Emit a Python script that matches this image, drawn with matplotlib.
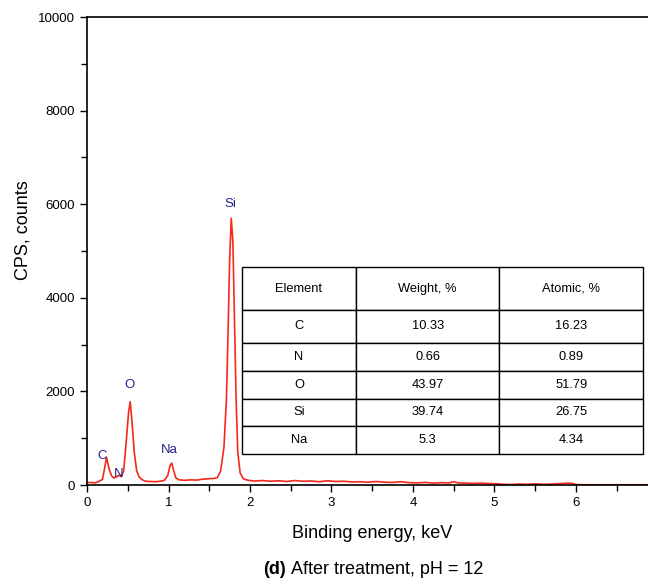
import matplotlib
matplotlib.use('Agg')
import matplotlib.pyplot as plt
from matplotlib.ticker import MultipleLocator

plt.rcParams['font.family'] = ['Liberation Sans', 'DejaVu Sans']

# ── EDS spectrum (energy in keV, counts per second) ──────────────────────────
energy = [0.00, 0.05, 0.10, 0.15, 0.19, 0.21, 0.24, 0.27, 0.30, 0.33, 0.36,
          0.39, 0.42, 0.45, 0.48, 0.51, 0.53, 0.55, 0.58, 0.61, 0.64, 0.68,
          0.72, 0.78, 0.84, 0.90, 0.95, 0.99, 1.02, 1.04, 1.06, 1.09, 1.13,
          1.20, 1.28, 1.35, 1.42, 1.50, 1.56, 1.60, 1.64, 1.68, 1.71, 1.73,
          1.75, 1.77, 1.79, 1.81, 1.83, 1.85, 1.88, 1.92, 1.98, 2.05, 2.15,
          2.25, 2.35, 2.45, 2.55, 2.65, 2.75, 2.85, 2.95, 3.05, 3.15, 3.25,
          3.35, 3.45, 3.55, 3.65, 3.75, 3.85, 3.95, 4.05, 4.15, 4.25, 4.35,
          4.45, 4.50, 4.55, 4.65, 4.75, 4.85, 4.95, 5.05, 5.10, 5.20, 5.30,
          5.40, 5.50, 5.60, 5.70, 5.80, 5.90, 5.95, 6.00, 6.10, 6.30, 6.60,
          7.00]
counts = [50, 55, 45, 80, 120, 300, 590, 350, 200, 150, 170,
          210, 180, 300, 900, 1550, 1780, 1400, 700, 300, 170, 110,
          80, 75, 70, 80, 100, 200, 420, 470, 330, 150, 110,
          100, 110, 105, 125, 135, 140, 160, 300, 800, 1800, 3200,
          4800, 5700, 5200, 3500, 1800, 700, 250, 130, 100, 85, 95,
          80, 90, 75, 95, 80, 85, 70, 90, 75, 80, 65,
          70, 60, 75, 60, 55, 70, 50, 45, 55, 40, 50,
          45, 70, 45, 40, 35, 40, 30, 25, 15, 10, 20,
          15, 25, 15, 20, 30, 40, 35, 10, 5, 5, 5,
          5]

# peak labels: element, energy, label height
peak_names = ['C', 'N', 'O', 'Na', 'Si']
peak_x = [0.18, 0.39, 0.52, 1.01, 1.76]
peak_y = [620, 240, 2130, 750, 6000]

# quantification table
table_header = ['Element', 'Weight, %', 'Atomic, %']
table_rows = [['C', '10.33', '16.23'],
              ['N', '0.66', '0.89'],
              ['O', '43.97', '51.79'],
              ['Si', '39.74', '26.75'],
              ['Na', '5.3', '4.34']]

fig = plt.figure(figsize=(6.48, 5.84), dpi=100)
ax = fig.add_axes([87 / 648, 99 / 584, 570.5 / 648, 468 / 584])

ax.plot(energy, counts, color='#f5281a', lw=1.2)

for name, x, y in zip(peak_names, peak_x, peak_y):
    ax.text(x, y, name, color='#23238c', fontsize=9.5, ha='center', va='center')

ax.set_xlim(0, 7)
ax.set_ylim(0, 10000)
ax.xaxis.set_major_locator(MultipleLocator(1))
ax.xaxis.set_minor_locator(MultipleLocator(0.5))
ax.yaxis.set_major_locator(MultipleLocator(2000))
ax.yaxis.set_minor_locator(MultipleLocator(1000))
ax.set_xticks(range(0, 7))
ax.tick_params(which='both', direction='out', labelsize=9.5, width=1)
ax.tick_params(which='major', length=5)
ax.tick_params(which='minor', length=4)
ax.spines['right'].set_visible(False)
for s in ['left', 'bottom', 'top']:
    ax.spines[s].set_linewidth(1.2)

ax.set_xlabel('Binding energy, keV', fontsize=13, labelpad=12)
ax.set_ylabel('CPS, counts', fontsize=13)
ax.yaxis.set_label_coords(-0.097, 0.545)

# table sits in the empty area right of the Si peak
tbl = ax.table(cellText=table_rows, colLabels=table_header,
               cellLoc='center', colWidths=[0.285, 0.356, 0.359],
               bbox=[0.2712, 0.0656, 0.704, 0.3996])
tbl.auto_set_font_size(False)
tbl.set_fontsize(9.3)
row_h = [42.7, 32.7, 28.3, 28.3, 26.4, 28.6]
for (r, c), cell in tbl.get_celld().items():
    cell.set_height(row_h[r])
    cell.set_linewidth(1.0)
    cell.set_edgecolor('black')

cap = fig.text(263 / 648, 1 - 569 / 584, '(d)', fontsize=13,
               fontweight='bold', ha='left', va='center')
ax.annotate('After treatment, pH = 12', xy=(1, 0.5), xycoords=cap,
            xytext=(3.5, 0), textcoords='offset points', fontsize=13,
            ha='left', va='center', annotation_clip=False)

fig.savefig('out.png', dpi=100)
